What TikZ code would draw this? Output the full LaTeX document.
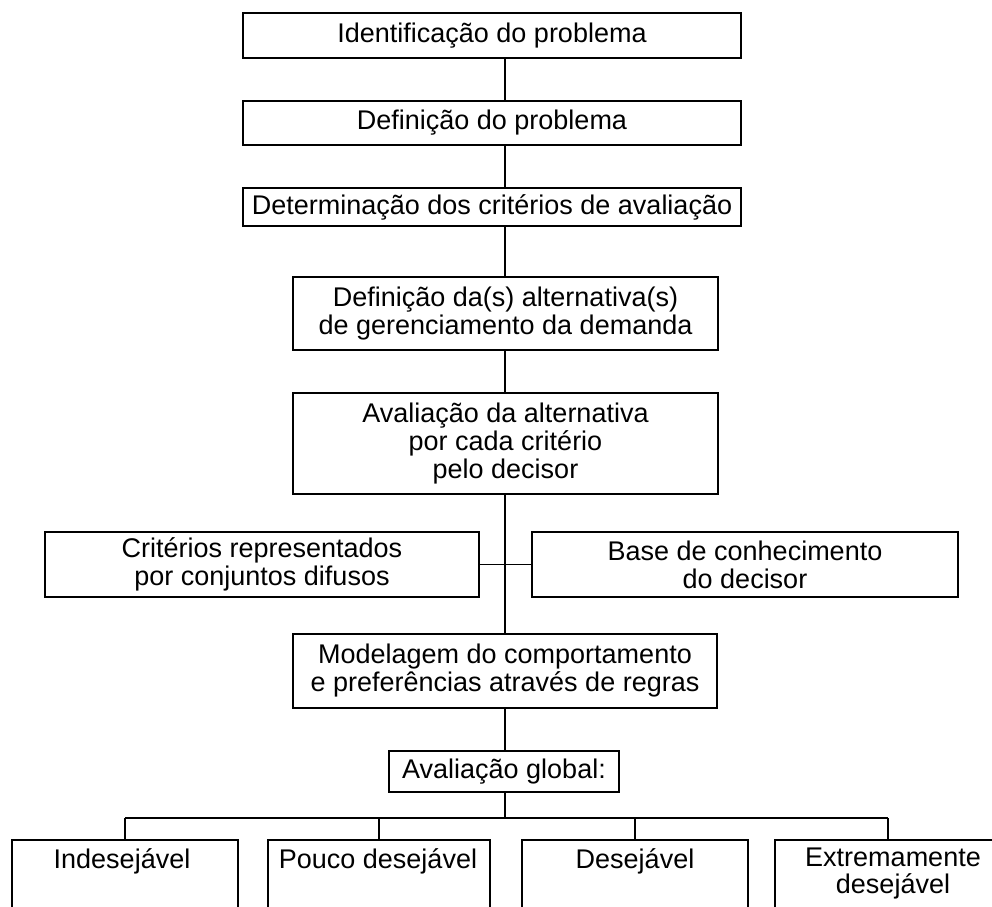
\documentclass[tikz,border=0pt]{standalone}
\usepackage{fontspec}
\setmainfont{Liberation Sans}
\begin{document}
\begin{tikzpicture}[x=1pt,y=-1pt,
  box/.style={draw, line width=1.6pt, rectangle, inner sep=0pt, align=center, font=\fontsize{27}{28}\selectfont},
  openbox/.style={inner sep=0pt, align=center, anchor=north, font=\fontsize{27}{27}\selectfont},
  con/.style={line width=1.6pt}]
\useasboundingbox (0,0) rectangle (992,906);
\coordinate (sp) at (505,0);
\node[box, minimum width=498pt, minimum height=45pt] (b1) at (492,35.5) {Identificação do problema};
\node[box, minimum width=498pt, minimum height=44pt] (b2) at (492,123) {Definição do problema};
\node[box, minimum width=498pt, minimum height=38pt] (b3) at (492,207) {Determinação dos critérios de avaliação};
\node[box, minimum width=425pt, minimum height=73pt] (b4) at (505.5,313.5) {Definição da(s) alternativa(s)\\de gerenciamento da demanda};
\node[box, minimum width=425pt, minimum height=101pt] (b5) at (505.5,443.5) {Avaliação da alternativa\\por cada critério\\pelo decisor};
\node[box, minimum width=434pt, minimum height=65pt] (cl) at (262,564.5) {Critérios representados\\por conjuntos difusos};
\node[box, minimum width=426pt, minimum height=65pt] (cr) at (745,564.5) {Base de conhecimento\\do decisor};
\node[box, minimum width=424pt, minimum height=74pt] (mo) at (505,671) {Modelagem do comportamento\\e preferências através de regras};
\node[box, minimum width=230pt, minimum height=41pt] (gl) at (504,771.5) {Avaliação global:};
% bottom open boxes
\node[minimum width=226pt, minimum height=80pt, inner sep=0pt] (o1) at (125,880) {};
\node[minimum width=222pt, minimum height=80pt, inner sep=0pt] (o2) at (379,880) {};
\node[minimum width=226pt, minimum height=80pt, inner sep=0pt] (o3) at (635,880) {};
\node[minimum width=240pt, minimum height=80pt, inner sep=0pt] (o4) at (895,880) {};
\node[openbox] (t1) at (122,848) {Indesejável};
\node[openbox] (t2) at (378,848) {Pouco desejável};
\node[openbox] (t3) at (635,848) {Desejável};
\node[openbox] (t4) at (893,848) {Extremamente\\desejável};
\foreach \o in {o1,o2,o3,o4}
  \draw[con] (\o.south west) -- (\o.north west) -- (\o.north east) -- (\o.south east);
% connectors
\draw[con] (b1.south -| sp) -- (b2.north -| sp);
\draw[con] (b2.south -| sp) -- (b3.north -| sp);
\draw[con] (b3.south -| sp) -- (b4.north -| sp);
\draw[con] (b4.south -| sp) -- (b5.north -| sp);
\draw[con] (b5.south -| sp) -- (mo.north -| sp);
\draw[con] (cl.east) -- (cr.west);
\draw[con] (mo.south -| sp) -- (gl.north -| sp);
\coordinate (bus) at (505,818);
\coordinate (d4) at (888,818);
\draw[con] (gl.south -| sp) -- (bus);
\draw[con] (o1.north |- bus) -- (d4);
\foreach \o in {o1,o2,o3}
  \draw[con] (\o.north |- bus) -- (\o.north);
\draw[con] (d4) -- (d4 |- o4.north);
\end{tikzpicture}
\end{document}
